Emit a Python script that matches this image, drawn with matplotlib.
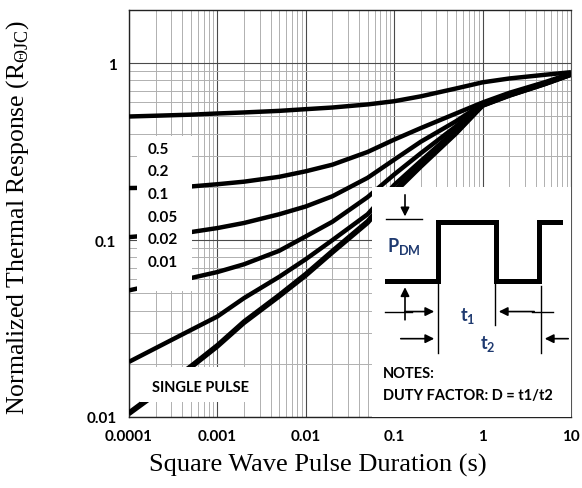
import numpy as np
import matplotlib
matplotlib.use('Agg')
import matplotlib.pyplot as plt
from matplotlib.patches import Rectangle

plt.rcParams['mathtext.fontset'] = 'custom'
plt.rcParams['mathtext.rm'] = 'Liberation Serif'
plt.rcParams['mathtext.bf'] = 'Lato:bold'

# pulse duration (s) and normalized thermal response for each duty factor
pulse_time = [1e-4, 2e-4, 5e-4, 1e-3, 2e-3, 5e-3, 1e-2, 2e-2, 5e-2,
              0.1, 0.2, 0.5, 1, 2, 5, 10]
z_d50 = [0.500, 0.505, 0.512, 0.52, 0.527, 0.538, 0.55, 0.562, 0.585,
         0.61, 0.65, 0.72, 0.78, 0.82, 0.86, 0.89]
z_d20 = [0.197, 0.198, 0.201, 0.207, 0.214, 0.228, 0.245, 0.267, 0.315,
         0.37, 0.43, 0.52, 0.60, 0.68, 0.78, 0.875]
z_d10 = [0.104, 0.107, 0.111, 0.117, 0.125, 0.14, 0.155, 0.177, 0.225,
         0.285, 0.36, 0.47, 0.59, 0.67, 0.77, 0.87]
z_d05 = [0.052, 0.056, 0.061, 0.066, 0.073, 0.087, 0.105, 0.127, 0.175,
         0.235, 0.31, 0.44, 0.585, 0.665, 0.77, 0.87]
z_d02 = [0.0205, 0.0245, 0.031, 0.037, 0.047, 0.062, 0.078, 0.10, 0.14,
         0.205, 0.28, 0.42, 0.58, 0.66, 0.765, 0.865]
z_d01 = [0.0106, 0.0137, 0.0194, 0.0255, 0.0347, 0.049, 0.0645, 0.087, 0.128,
         0.19, 0.265, 0.405, 0.577, 0.657, 0.762, 0.862]
z_single = [0.0104, 0.0134, 0.019, 0.025, 0.034, 0.048, 0.063, 0.085, 0.125,
            0.185, 0.26, 0.40, 0.575, 0.655, 0.76, 0.86]
curves = [z_d50, z_d20, z_d10, z_d05, z_d02, z_d01, z_single]

duty_labels = ['0.5', '0.2', '0.1', '0.05', '0.02', '0.01']
x_ticks = [1e-4, 1e-3, 1e-2, 1e-1, 1, 10]
x_ticklabels = ['0.0001', '0.001', '0.01', '0.1', '1', '10']
y_ticks = [0.01, 0.1, 1]
y_ticklabels = ['0.01', '0.1', '1']

fig = plt.figure(figsize=(5.82, 4.89), dpi=100)
ax = fig.add_axes([0.2216, 0.1452, 0.7595, 0.8323])
ax.set_xscale('log')
ax.set_yscale('log')
ax.set_xlim(1e-4, 10)
ax.set_ylim(0.01, 2)

# grid
ax.grid(True, which='major', color='#4a4a4a', lw=0.8)
ax.grid(True, which='minor', color='#b0b0b0', lw=0.7)
ax.set_axisbelow(True)

for z in curves:
    ax.plot(pulse_time, z, color='black', lw=3.2, solid_capstyle='butt',
            solid_joinstyle='round', zorder=3)

ax.set_xticks(x_ticks)
ax.set_xticklabels(x_ticklabels)
ax.set_yticks(y_ticks)
ax.set_yticklabels(y_ticklabels)
ax.tick_params(which='both', length=0)
ax.tick_params(axis='x', pad=9)
ax.tick_params(axis='y', pad=9)
for lab in ax.get_xticklabels() + ax.get_yticklabels():
    lab.set_fontfamily('Lato')
    lab.set_fontweight('bold')
    lab.set_fontsize(11)

for side in ['left', 'bottom', 'top']:
    ax.spines[side].set_color('#222222')
    ax.spines[side].set_linewidth(1.0)
ax.spines['right'].set_color('#555555')
ax.spines['right'].set_linewidth(0.8)

# white label boxes
ax.add_patch(Rectangle((0.018, 0.31), 0.125, 0.38, transform=ax.transAxes,
                       facecolor='white', edgecolor='none', zorder=4))
ax.add_patch(Rectangle((0.025, 0.037), 0.26, 0.086, transform=ax.transAxes,
                       facecolor='white', edgecolor='none', zorder=4))
for i, lab in enumerate(duty_labels):
    ax.text(0.043, 0.6589 - i * 0.0555, lab, transform=ax.transAxes,
            fontfamily='Lato', fontweight='bold', fontsize=11,
            va='center', ha='left', zorder=5)
ax.text(0.052, 0.0737, 'SINGLE PULSE', transform=ax.transAxes,
        fontfamily='Lato', fontweight='bold', fontsize=10.5,
        va='center', ha='left', zorder=5)

# duty factor sketch
ins = ax.inset_axes([0.5498, 0.0, 0.4502, 0.565], zorder=6)
ins.set_facecolor('white')
ins.set_xticks([])
ins.set_yticks([])
for s in ins.spines.values():
    s.set_visible(False)
ins.set_xlim(0, 199)
ins.set_ylim(229, 0)

navy = '#1f3a70'
ins.plot([15, 66, 66, 124, 124, 167, 167, 188], [94, 94, 35, 35, 94, 94, 35, 35],
         color='black', lw=3.6, solid_joinstyle='miter')
ins.plot([14, 50], [32, 32], color='black', lw=1)
for xv, y0, y1 in [(66, 97, 165), (123, 97, 137), (169, 99, 165)]:
    ins.plot([xv, xv], [y0, y1], color='black', lw=1)
ins.plot([13, 40], [124, 124], color='black', lw=1)
ins.plot([160, 181], [124, 124], color='black', lw=1)

arrow = dict(arrowstyle='-|>', color='black', lw=1.2, mutation_scale=13)
ins.annotate('', xy=(33, 32), xytext=(33, 5), arrowprops=arrow)
ins.annotate('', xy=(33, 97), xytext=(33, 135), arrowprops=arrow)
ins.annotate('', xy=(65, 124), xytext=(30, 124), arrowprops=arrow)
ins.annotate('', xy=(124, 124), xytext=(165, 124), arrowprops=arrow)
ins.annotate('', xy=(65, 151), xytext=(26, 151), arrowprops=arrow)
ins.annotate('', xy=(170, 151), xytext=(199, 151), arrowprops=arrow)

ins.text(15, 58, r'$\mathbf{P_{DM}}$', color=navy, fontsize=13, va='center', ha='left')
ins.text(88, 127, r'$\mathbf{t_1}$', color=navy, fontsize=13, va='center', ha='left')
ins.text(108, 155, r'$\mathbf{t_2}$', color=navy, fontsize=13, va='center', ha='left')
ins.text(11, 185, 'NOTES:', fontfamily='Lato', fontweight='bold', fontsize=10.5,
         va='center', ha='left')
ins.text(11, 207, 'DUTY FACTOR: D = t1/t2', fontfamily='Lato', fontweight='bold',
         fontsize=10.5, va='center', ha='left')

fig.text(318 / 582, 0.049, 'Square Wave Pulse Duration (s)',
         fontfamily='Liberation Serif', fontsize=19, ha='center', va='center')
fig.text(0.031, 0.556, r'Normalized Thermal Response (R$_{\mathrm{ΘJC}}$)',
         fontfamily='Liberation Serif', fontsize=18.5, rotation=90,
         ha='center', va='center')

fig.savefig('out.png', dpi=100)
